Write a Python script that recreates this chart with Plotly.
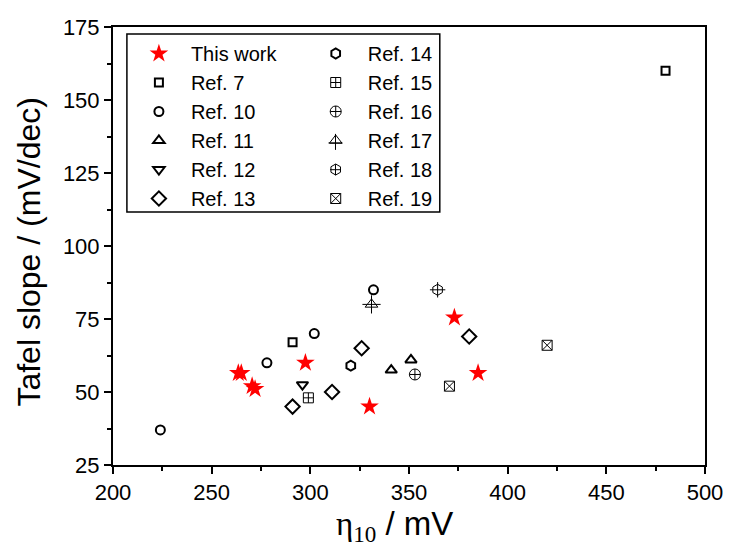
import plotly.graph_objects as go

# Overpotential at 10 mA/cm2 (mV) and Tafel slope (mV/dec)
this_work_x = [263.5, 265, 270.5, 272, 297.5, 330, 373, 385]
this_work_y = [56.5, 56.5, 52, 51, 60, 45, 75.5, 56.5]

ref7_x, ref7_y = [291, 480], [67, 160]
ref10_x, ref10_y = [224, 278, 302, 332], [37, 60, 70, 85]
ref11_x, ref11_y = [341, 351], [57.5, 61]
ref12_x, ref12_y = [296], [52.5]
ref13_x, ref13_y = [291, 311, 326, 380.5], [45, 50, 65, 69]
ref14_x, ref14_y = [320.5], [59]
ref15_x, ref15_y = [299], [48]
ref16_x, ref16_y = [353], [56]
ref17_x, ref17_y = [331], [80]
ref18_x, ref18_y = [364.5], [85]
ref19_x, ref19_y = [370.5, 420], [52, 66]

BLACK = "#000000"
W, H = 735, 557
M_L, M_R, M_T, M_B = 113, 26, 27, 92
PLOT_W, PLOT_H = W - M_L - M_R, H - M_T - M_B


def px_x(p):
    """Horizontal pixel position -> paper coordinate."""
    return (p - M_L) / PLOT_W


def px_y(p):
    """Vertical pixel position (from top) -> paper coordinate."""
    return (H - M_B - p) / PLOT_H


def open_marker(symbol, size=9, width=2):
    return dict(symbol=symbol, size=size, color=BLACK, line=dict(color=BLACK, width=width))


# (name, x, y, marker, legend column)
series = [
    ("This work", this_work_x, this_work_y, dict(symbol="star", size=14, color="#ff0000", line=dict(width=0)), "legend"),
    ("Ref. 7", ref7_x, ref7_y, open_marker("square-open", 8, 2), "legend"),
    ("Ref. 10", ref10_x, ref10_y, open_marker("circle-open", 9, 2), "legend"),
    ("Ref. 11", ref11_x, ref11_y, open_marker("triangle-up-open", 10, 2), "legend"),
    ("Ref. 12", ref12_x, ref12_y, open_marker("triangle-down-open", 10, 2), "legend"),
    ("Ref. 13", ref13_x, ref13_y, open_marker("diamond-open", 11, 2), "legend"),
    ("Ref. 14", ref14_x, ref14_y, open_marker("hexagon-open", 10, 2), "legend2"),
    ("Ref. 15", ref15_x, ref15_y, open_marker("square-cross-open", 10, 1), "legend2"),
    ("Ref. 16", ref16_x, ref16_y, open_marker("circle-cross-open", 11, 1), "legend2"),
    ("Ref. 17", ref17_x, ref17_y, open_marker("triangle-up-open", 11, 1), "legend2"),
    ("Ref. 18", ref18_x, ref18_y, open_marker("hexagon-open", 11, 1), "legend2"),
    ("Ref. 19", ref19_x, ref19_y, open_marker("square-x-open", 10, 1), "legend2"),
]

fig = go.Figure()
for name, xs, ys, marker, leg in series:
    fig.add_trace(go.Scatter(x=xs, y=ys, mode="markers", name=name, marker=marker, legend=leg))

# Crosses drawn over the triangle (Ref. 17) and hexagon (Ref. 18) symbols
fig.add_trace(go.Scatter(x=ref17_x, y=ref17_y, mode="markers", showlegend=False,
                         marker=dict(symbol="cross-thin-open", size=13, color=BLACK,
                                     line=dict(color=BLACK, width=1))))
fig.add_trace(go.Scatter(x=ref18_x, y=ref18_y, mode="markers", showlegend=False,
                         marker=dict(symbol="cross-thin-open", size=11, color=BLACK,
                                     line=dict(color=BLACK, width=1))))

axis_common = dict(
    showgrid=False, zeroline=False, showline=True, linecolor=BLACK, linewidth=2,
    mirror=True, ticks="outside", ticklen=7, tickwidth=1.5, tickcolor=BLACK,
    tickfont=dict(family="Liberation Sans, Arial, sans-serif", size=22, color=BLACK),
)

legend_common = dict(
    orientation="v", xanchor="left", yanchor="top", itemwidth=54,
    bgcolor="rgba(0,0,0,0)", borderwidth=0,
    font=dict(size=20, color=BLACK), traceorder="normal", itemsizing="trace",
)

# Legend frame and the cross strokes on the Ref. 17 / Ref. 18 legend symbols
LEG_LEFT, LEG_TOP, LEG_RIGHT, LEG_BOTTOM = 127, 34, 442, 212
COL2_MARK_X, ROW0_Y, ROW_STEP = 337, 54.5, 28.8
shapes = [dict(type="rect", xref="paper", yref="paper",
               x0=px_x(LEG_LEFT), x1=px_x(LEG_RIGHT), y0=px_y(LEG_BOTTOM), y1=px_y(LEG_TOP),
               line=dict(color=BLACK, width=1.5), fillcolor="rgba(0,0,0,0)", layer="below")]
for row, half, drop in ((3, 7, 2), (4, 5.5, 0)):
    cy = ROW0_Y + row * ROW_STEP
    shapes.append(dict(type="line", xref="paper", yref="paper",
                       x0=px_x(COL2_MARK_X), x1=px_x(COL2_MARK_X),
                       y0=px_y(cy - half), y1=px_y(cy + half + drop),
                       line=dict(color=BLACK, width=1)))
    shapes.append(dict(type="line", xref="paper", yref="paper",
                       x0=px_x(COL2_MARK_X - half), x1=px_x(COL2_MARK_X + half),
                       y0=px_y(cy + drop), y1=px_y(cy + drop),
                       line=dict(color=BLACK, width=1)))

annotations = [
    dict(text="Tafel slope / (mV/dec)", xref="paper", yref="paper",
         x=px_x(28), y=px_y(252), xanchor="center", yanchor="middle", textangle=-90,
         showarrow=False, font=dict(size=32, color=BLACK)),
    dict(text="<span style='font-family:Liberation Serif'>η<sub>10</sub></span> / mV",
         xref="paper", yref="paper", x=px_x(396), y=px_y(503), xanchor="center", yanchor="top",
         showarrow=False, font=dict(size=33, color=BLACK)),
]

fig.update_layout(
    width=W, height=H,
    margin=dict(l=M_L, r=M_R, t=M_T, b=M_B),
    paper_bgcolor="white", plot_bgcolor="white",
    font=dict(family="Liberation Sans, Arial, sans-serif", color=BLACK),
    xaxis=dict(range=[200, 500], tick0=200, dtick=50,
               minor=dict(ticks="outside", ticklen=4, tickwidth=1.5, tickcolor=BLACK, dtick=25),
               **axis_common),
    yaxis=dict(range=[25, 175], tick0=25, dtick=25,
               minor=dict(ticks="outside", ticklen=4, tickwidth=1.5, tickcolor=BLACK, dtick=12.5),
               **axis_common),
    legend=dict(x=px_x(LEG_LEFT), y=px_y(LEG_TOP), **legend_common),
    legend2=dict(x=px_x(LEG_LEFT + 178), y=px_y(LEG_TOP), **legend_common),
    shapes=shapes,
    annotations=annotations,
)

fig.write_html("out.html")
